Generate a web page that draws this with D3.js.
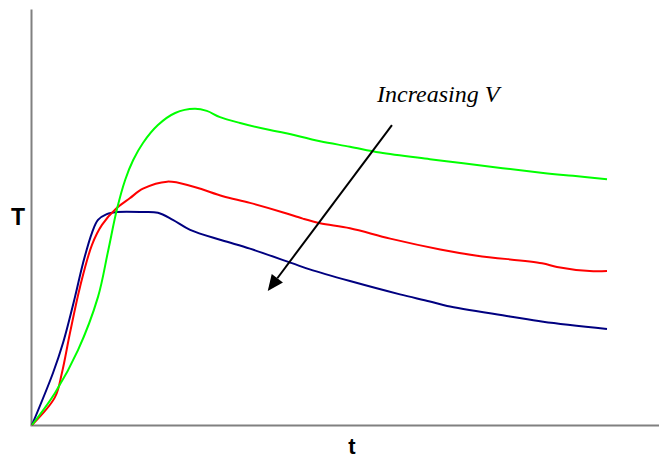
<!DOCTYPE html>
<html>
<head>
<meta charset="utf-8">
<script src="https://cdn.jsdelivr.net/npm/d3@7"></script>
<style>
  html, body { margin: 0; padding: 0; background: #fff; }
  svg { display: block; }
</style>
</head>
<body>
<svg id="chart" width="659" height="459"></svg>
<script>
// ---- data (t in arbitrary units 0..100, T in arbitrary units 0..100) ----
const blueT = [0, 3.65, 5.39, 7.48, 8.87, 10.43, 11.48, 13.0, 14.78, 19.3, 21.9, 24.5, 27.5, 33.0, 37.9, 45.2, 48.3, 55.3, 64.0, 69.2, 72.2, 83.1, 88.9, 100];
const blueV = [0, 12.5, 19.7, 30.8, 38.9, 46.2, 49.3, 50.7, 51.2, 51.2, 51.0, 49.3, 46.9, 44.4, 42.4, 38.9, 37.4, 34.6, 31.4, 29.7, 28.6, 26.1, 24.8, 23.1];

const redT = [0, 4.0, 5.2, 6.6, 8.35, 10.43, 12.17, 14.78, 17.0, 19.3, 23.5, 27.8, 29.7, 33.2, 37.9, 43.7, 47.1, 50.1, 55.3, 62.3, 71.0, 77.4, 88.7, 91.3, 97.0, 100];
const redV = [0, 6.7, 12.5, 22.1, 33.2, 43.3, 48.1, 52.2, 54.5, 56.8, 58.5, 57.4, 56.6, 55.0, 53.4, 51.1, 49.6, 48.5, 47.3, 44.8, 42.2, 40.7, 38.9, 38.0, 37.0, 37.0];

const greenT = [0, 4.0, 8.0, 11.48, 13.2, 14.78, 16.2, 17.6, 19.3, 21.9, 24.9, 28.3, 30.4, 32.7, 36.2, 41.4, 44.0, 50.1, 55.3, 60.5, 69.2, 75.0, 88.9, 94.1, 100];
const greenV = [0, 7.7, 18.0, 30.8, 41.6, 51.9, 58.9, 63.7, 67.8, 72.1, 75.0, 76.0, 75.5, 74.0, 72.6, 70.9, 70.2, 68.2, 66.9, 65.5, 63.9, 62.9, 60.6, 59.9, 59.1];

const seriesNames = ["low V", "mid V", "high V"];
const seriesColors = ["#000080", "#ff0000", "#00ff00"];

// annotation (data coordinates)
const arrowFrom = [62.6, 72.1];
const arrowTo = [41.0, 32.2];
const noteText = "Increasing V";
const notePos = [60.0, 77.6];
const xLabel = "t";
const yLabel = "T";

// ---- drawing ----
const svg = d3.select("#chart");
const x = d3.scaleLinear().domain([0, 109]).range([32, 658.75]);
const y = d3.scaleLinear().domain([0, 100]).range([425, 9]);

const series = [
  { name: seriesNames[0], t: blueT, v: blueV, color: seriesColors[0] },
  { name: seriesNames[1], t: redT, v: redV, color: seriesColors[1] },
  { name: seriesNames[2], t: greenT, v: greenV, color: seriesColors[2] }
];

// axes (no ticks)
const axG = svg.append("g");
axG.append("g")
  .attr("transform", `translate(${x(0) - 1},0)`)
  .call(d3.axisLeft(y).tickValues([]).tickSizeOuter(0))
  .call(g => g.select(".domain").attr("stroke", "#808080").attr("stroke-width", 2));
axG.append("g")
  .attr("transform", `translate(0,${y(0)})`)
  .call(d3.axisBottom(d3.scaleLinear().domain(x.domain()).range([x(0) - 2, 659])).tickValues([]).tickSizeOuter(0))
  .call(g => g.select(".domain").attr("stroke", "#808080").attr("stroke-width", 2));

const line = d3.line()
  .x(d => x(d[0]))
  .y(d => y(d[1]))
  .curve(d3.curveCatmullRom.alpha(0.5));

series.forEach(s => {
  const pts = s.t.map((t, i) => [t, s.v[i]]);
  svg.append("path")
    .datum(pts)
    .attr("fill", "none")
    .attr("stroke", s.color)
    .attr("stroke-width", 2)
    .attr("stroke-linejoin", "round")
    .attr("d", line);
});

// arrow
const x1 = x(arrowFrom[0]), y1 = y(arrowFrom[1]);
const x2 = x(arrowTo[0]), y2 = y(arrowTo[1]);
const ang = Math.atan2(y2 - y1, x2 - x1);
const headLen = 16, headHalf = 7;
const bx = x2 - headLen * Math.cos(ang), by = y2 - headLen * Math.sin(ang);
svg.append("line")
  .attr("x1", x1).attr("y1", y1)
  .attr("x2", bx).attr("y2", by)
  .attr("stroke", "#000").attr("stroke-width", 2);
const px = -Math.sin(ang), py = Math.cos(ang);
svg.append("path")
  .attr("d", `M${x2},${y2}L${bx + px * headHalf},${by + py * headHalf}L${bx - px * headHalf},${by - py * headHalf}Z`)
  .attr("fill", "#000");

// annotation text
svg.append("text")
  .attr("x", x(notePos[0]))
  .attr("y", y(notePos[1]))
  .attr("font-family", "'Liberation Serif', 'Times New Roman', serif")
  .attr("font-style", "italic")
  .attr("font-size", 24)
  .attr("fill", "#000")
  .text(noteText);

// axis labels
svg.append("text")
  .attr("x", 18).attr("y", 225)
  .attr("text-anchor", "middle")
  .attr("font-family", "'Liberation Sans', Arial, sans-serif")
  .attr("font-weight", "bold")
  .attr("font-size", 23)
  .text(yLabel);
svg.append("text")
  .attr("x", 352).attr("y", 454)
  .attr("text-anchor", "middle")
  .attr("font-family", "'Liberation Sans', Arial, sans-serif")
  .attr("font-weight", "bold")
  .attr("font-size", 22)
  .text(xLabel);
</script>
</body>
</html>
